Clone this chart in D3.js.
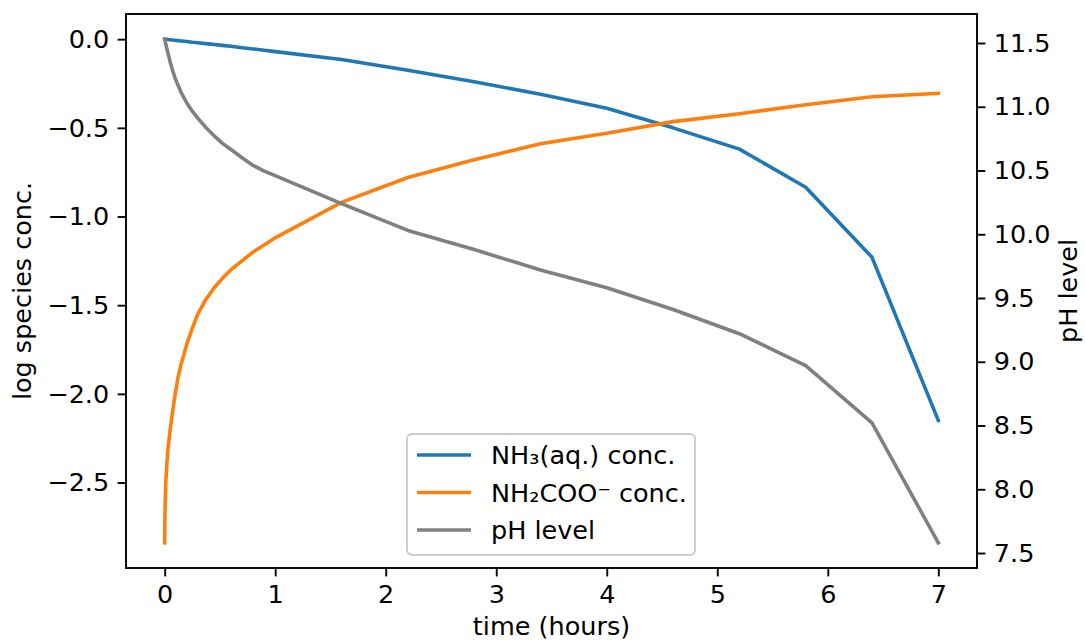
<!DOCTYPE html>
<html>
<head>
<meta charset="utf-8">
<script src="https://cdn.jsdelivr.net/npm/d3@7"></script>
<style>
  body { margin: 0; background: #fff; }
  svg text { font-family: "DejaVu Sans", sans-serif; fill: #000; }
</style>
</head>
<body>
<div id="chart"></div>
<script>
// time points (hours)
var times = [0, 0.002, 0.005, 0.01, 0.02, 0.03, 0.05, 0.07, 0.09, 0.12, 0.15, 0.2, 0.25, 0.3, 0.37, 0.45, 0.52, 0.6, 0.7, 0.8, 0.9, 1.0,
             1.6, 2.2, 2.8, 3.4, 4.0, 4.6, 5.2, 5.8, 6.4, 7.0];
// log species conc.
var nh3 = [0, 0, 0, -0.001, -0.001, -0.002, -0.003, -0.005, -0.006, -0.008, -0.01, -0.013, -0.017, -0.02, -0.025, -0.03, -0.035, -0.04, -0.048, -0.055, -0.062, -0.07,
           -0.115, -0.175, -0.24, -0.31, -0.39, -0.50, -0.62, -0.835, -1.23, -2.15];
var carbamate = [-2.84, -2.70, -2.60, -2.50, -2.39, -2.31, -2.20, -2.11, -2.02, -1.91, -1.83, -1.72, -1.63, -1.55, -1.47, -1.40, -1.35, -1.30, -1.25, -1.20, -1.16, -1.12,
                 -0.92, -0.78, -0.68, -0.59, -0.53, -0.465, -0.42, -0.37, -0.325, -0.305];
// pH
var ph = [11.53, 11.525, 11.51, 11.49, 11.455, 11.42, 11.35, 11.29, 11.235, 11.17, 11.11, 11.03, 10.965, 10.91, 10.84, 10.77, 10.715, 10.665, 10.60, 10.54, 10.495, 10.46,
          10.24, 10.03, 9.88, 9.72, 9.58, 9.41, 9.22, 8.97, 8.52, 7.58];

var xTicks = [0, 1, 2, 3, 4, 5, 6, 7];
var leftTicks = [-2.5, -2.0, -1.5, -1.0, -0.5, 0.0];
var rightTicks = [7.5, 8.0, 8.5, 9.0, 9.5, 10.0, 10.5, 11.0, 11.5];
var legendLabels = ["NH\u2083(aq.) conc.", "NH\u2082COO\u207B conc.", "pH level"];
var colors = ["#1f77b4", "#ff7f0e", "#808080"];

var width = 1085, height = 642;
var plotL = 126, plotR = 977, plotT = 14, plotB = 568;
var fs = 25.5, tick = 8.4, pad = 8.4;

var svg = d3.select("#chart").append("svg")
    .attr("width", width)
    .attr("height", height);

// matplotlib style 5% margins
function padded(vals) {
  var e = d3.extent(vals), m = (e[1] - e[0]) * 0.05;
  return [e[0] - m, e[1] + m];
}

var x = d3.scaleLinear().domain(padded(times)).range([plotL, plotR]);
var yL = d3.scaleLinear().domain(padded(nh3.concat(carbamate))).range([plotB, plotT]);
var yR = d3.scaleLinear().domain(padded(ph)).range([plotB, plotT]);

var fmt = d3.format(".1f");

function styleAxis(g) {
  g.select(".domain").remove();
  g.selectAll(".tick line").attr("stroke", "#000").attr("stroke-width", 1.9);
  g.selectAll(".tick text").attr("font-size", fs).attr("font-family", "DejaVu Sans").attr("fill", "#000");
}

svg.append("g")
    .attr("transform", "translate(0," + plotB + ")")
    .call(d3.axisBottom(x).tickValues(xTicks).tickFormat(d3.format("d")).tickSize(tick).tickPadding(pad))
    .call(styleAxis);

svg.append("g")
    .attr("transform", "translate(" + plotL + ",0)")
    .call(d3.axisLeft(yL).tickValues(leftTicks).tickFormat(fmt).tickSize(tick).tickPadding(pad))
    .call(styleAxis);

svg.append("g")
    .attr("transform", "translate(" + plotR + ",0)")
    .call(d3.axisRight(yR).tickValues(rightTicks).tickFormat(fmt).tickSize(tick).tickPadding(pad))
    .call(styleAxis);

// lines
var lineL = d3.line().x(function(d) { return x(d[0]); }).y(function(d) { return yL(d[1]); });
var lineR = d3.line().x(function(d) { return x(d[0]); }).y(function(d) { return yR(d[1]); });

svg.append("path")
    .attr("d", lineL(d3.zip(times, nh3)))
    .attr("fill", "none").attr("stroke", colors[0]).attr("stroke-width", 3.6).attr("stroke-linejoin", "round").attr("stroke-linecap", "square");
svg.append("path")
    .attr("d", lineL(d3.zip(times, carbamate)))
    .attr("fill", "none").attr("stroke", colors[1]).attr("stroke-width", 3.6).attr("stroke-linejoin", "round").attr("stroke-linecap", "square");
svg.append("path")
    .attr("d", lineR(d3.zip(times, ph)))
    .attr("fill", "none").attr("stroke", colors[2]).attr("stroke-width", 3.6).attr("stroke-linejoin", "round").attr("stroke-linecap", "square");

// frame
svg.append("rect")
    .attr("x", plotL).attr("y", plotT)
    .attr("width", plotR - plotL).attr("height", plotB - plotT)
    .attr("fill", "none").attr("stroke", "#000").attr("stroke-width", 1.9);

// axis labels
svg.append("text")
    .attr("x", (plotL + plotR) / 2).attr("y", 635)
    .attr("text-anchor", "middle").attr("font-size", fs)
    .text("time (hours)");

svg.append("text")
    .attr("transform", "translate(31," + (plotT + plotB) / 2 + ") rotate(-90)")
    .attr("text-anchor", "middle").attr("font-size", fs)
    .text("log species conc.");

svg.append("text")
    .attr("transform", "translate(1077," + (plotT + plotB) / 2 + ") rotate(-90)")
    .attr("text-anchor", "middle").attr("font-size", fs)
    .text("pH level");

// legend
var lg = svg.append("g").attr("transform", "translate(407,434)");
lg.append("rect")
    .attr("width", 288).attr("height", 121).attr("rx", 5)
    .attr("fill", "#fff").attr("fill-opacity", 0.8)
    .attr("stroke", "#cccccc").attr("stroke-width", 1.9);

var rows = lg.selectAll(".row")
    .data(legendLabels)
    .enter()
    .append("g")
    .attr("class", "row")
    .attr("transform", function(d, i) { return "translate(0," + (21 + i * 37.5) + ")"; });

rows.append("line")
    .attr("x1", 10).attr("x2", 64)
    .attr("stroke", function(d, i) { return colors[i]; })
    .attr("stroke-width", 3.6);

rows.append("text")
    .attr("x", 84).attr("dy", "0.36em")
    .attr("font-size", fs)
    .text(function(d) { return d; });
</script>
</body>
</html>
